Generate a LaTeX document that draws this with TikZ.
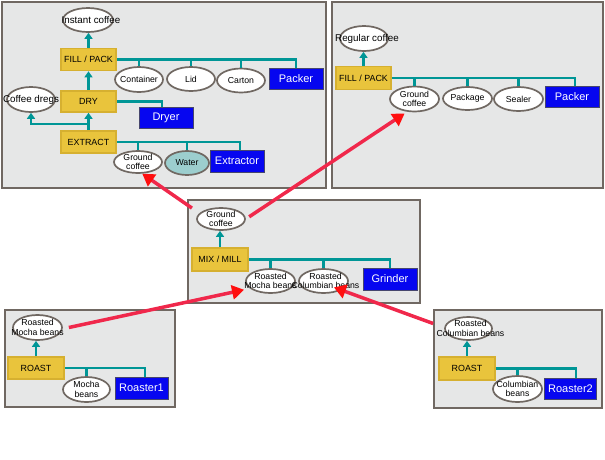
\documentclass[tikz,border=0pt]{standalone}
\usepackage{fontspec}
\setmainfont{Liberation Sans}
\usetikzlibrary{shapes.geometric,arrows.meta}
\definecolor{panelbg}{RGB}{230,231,231}
\definecolor{panelline}{RGB}{112,104,98}
\definecolor{gold}{RGB}{233,196,60}
\definecolor{golddark}{RGB}{214,176,48}
\definecolor{tealc}{RGB}{0,150,150}
\definecolor{bluebox}{RGB}{6,6,240}
\definecolor{blueline}{RGB}{70,70,110}
\definecolor{waterfill}{RGB}{156,206,206}
\definecolor{redline}{RGB}{240,40,75}
\definecolor{redhead}{RGB}{255,15,15}
\begin{document}
\begin{tikzpicture}[x=1pt,y=-1pt,
  panel/.style={fill=panelbg, draw=panelline, line width=1.8pt},
  proc/.style={rectangle, fill=gold, draw=golddark, line width=1.6pt, minimum width=55pt, minimum height=22pt, inner sep=0pt, font=\fontsize{8.9}{10}\selectfont},
  equip/.style={rectangle, fill=bluebox, draw=blueline, line width=0.8pt, minimum width=54pt, minimum height=21pt, inner sep=0pt, text=white, font=\fontsize{11}{12}\selectfont},
  oval/.style={ellipse, draw=panelline, fill=white, line width=1.7pt, minimum width=48pt, minimum height=24pt, inner sep=0pt},
  lbl/.style={font=\fontsize{8.7}{9.5}\selectfont, align=center, inner sep=0pt},
  biglbl/.style={font=\fontsize{9.8}{10}\selectfont, inner sep=0pt},
  bus/.style={draw=tealc, line width=2.2pt},
  up/.style={bus, -{Triangle[length=6pt,width=8pt]}},
  feed/.style={draw=redline, line width=3.5pt, -{Triangle[length=12pt,width=14pt,color=redhead]}}
]
\useasboundingbox (0,0) rectangle (605,459);

% panels
\path[panel] (2,2) rectangle (326,188);
\path[panel] (332,2) rectangle (603,188);
\path[panel] (188,200) rectangle (420,303);
\path[panel] (5,310) rectangle (175,407);
\path[panel] (434,310) rectangle (602,408);

% ---------- Panel A: instant coffee ----------
\node[oval, minimum width=50pt, label={[biglbl,xshift=3pt]center:Instant coffee}] (instant) at (88,20) {};
\node[proc] (fpA) at (88.5,59.5) {FILL / PACK};
\node[oval, minimum height=25pt, label={[lbl]center:Container}] (container) at (139,79.5) {};
\node[oval, label={[lbl]center:Lid}] (lid) at (191,79) {};
\node[oval, label={[lbl]center:Carton}] (carton) at (241,80.5) {};
\node[equip] (packerA) at (296,78.5) {Packer};
\node[oval, minimum height=25pt, label={[biglbl]center:Coffee dregs}] (dregs) at (31,99.5) {};
\node[proc, minimum height=21pt] (dry) at (88.5,101.5) {DRY};
\node[equip] (dryer) at (166,117.5) {Dryer};
\node[proc] (ext) at (88.5,142) {EXTRACT};
\node[oval, minimum height=22pt, label={[lbl]center:Ground\\coffee}] (gcA) at (138,162) {};
\node[oval, minimum width=44pt, fill=waterfill, label={[lbl]center:Water}] (water) at (187,163) {};
\node[equip, minimum height=22pt] (extractor) at (237,161) {Extractor};

\draw[up] (fpA.north) -- (fpA.north |- instant.south);
\draw[bus] (fpA.east) -| (packerA.north);
\foreach \n in {container,lid,carton} \draw[bus] (\n.north) -- (\n.north |- fpA.east);
\draw[up] (dry.north) -- (fpA.south);
\draw[bus] (dry.east) -| ([xshift=-4pt]dryer.north);
\draw[up] (ext.north) -- (dry.south);
\draw[up] ([yshift=6pt]ext.north) -| (dregs.south);
\draw[bus] (ext.east) -| ([xshift=3pt]extractor.north);
\foreach \n in {gcA,water} \draw[bus] (\n.north) -- (\n.north |- ext.east);

% ---------- Panel B: regular coffee ----------
\node[oval, minimum height=25pt, label={[biglbl,xshift=3pt]center:Regular coffee}] (regular) at (364,38.5) {};
\node[proc, minimum height=23pt] (fpB) at (363.5,78) {FILL / PACK};
\node[oval, minimum width=49pt, minimum height=25pt, label={[lbl]center:Ground\\coffee}] (gcB) at (414.5,99) {};
\node[oval, minimum width=49pt, minimum height=23pt, label={[lbl]center:Package}] (package) at (467.5,98.5) {};
\node[oval, minimum width=49pt, label={[lbl]center:Sealer}] (sealer) at (518.5,99) {};
\node[equip] (packerB) at (572,96.5) {Packer};

\draw[up] (fpB.north) -- (fpB.north |- regular.south);
\draw[bus] (fpB.east) -| ([xshift=3pt]packerB.north);
\foreach \n in {gcB,package,sealer} \draw[bus] (\n.north) -- (\n.north |- fpB.east);

% ---------- Panel C: mix / mill ----------
\node[oval, minimum height=22pt, label={[lbl]center:Ground\\coffee}] (gcC) at (221,219) {};
\node[proc, minimum width=56pt, minimum height=23pt] (mix) at (220,259.5) {MIX / MILL};
\node[oval, minimum width=49pt, label={[lbl]center:Roasted\\Mocha beans}] (rmC) at (270.5,281) {};
\node[oval, minimum width=49pt, label={[lbl,xshift=2pt]center:Roasted\\Columbian beans}] (rcC) at (323.5,281) {};
\node[equip, minimum height=22pt] (grinder) at (390,279) {Grinder};

\draw[up] (mix.north) -- (mix.north |- gcC.south);
\draw[bus] (mix.east) -| (grinder.north);
\foreach \n in {rmC,rcC} \draw[bus] (\n.north) -- (\n.north |- mix.east);

% ---------- Panel D: roast mocha ----------
\node[oval, minimum width=49pt, minimum height=25pt, label={[lbl]center:Roasted\\Mocha beans}] (rmD) at (37.5,327.5) {};
\node[proc, minimum width=56pt] (roastD) at (36,368) {ROAST};
\node[oval, minimum width=47pt, minimum height=25pt, label={[lbl]center:Mocha\\beans}] (mochaD) at (86.5,389.5) {};
\node[equip, minimum width=53pt, minimum height=22pt] (roaster1) at (141.5,388) {Roaster1};

\draw[up] (roastD.north) -- (roastD.north |- rmD.south);
\draw[bus] (roastD.east) -| ([xshift=3.5pt]roaster1.north);
\draw[bus] (mochaD.north) -- (mochaD.north |- roastD.east);

% ---------- Panel E: roast columbian ----------
\node[oval, minimum width=47pt, minimum height=23pt, label={[lbl,xshift=2pt]center:Roasted\\Columbian beans}] (rcE) at (468.5,328.5) {};
\node[proc, minimum width=56pt, minimum height=23pt] (roastE) at (467,368.5) {ROAST};
\node[oval, minimum width=49pt, minimum height=26pt, label={[lbl]center:Columbian\\beans}] (colE) at (517.5,389) {};
\node[equip, minimum width=52pt] (roaster2) at (570.5,388.5) {Roaster2};

\draw[up] (roastE.north) -- (roastE.north |- rcE.south);
\draw[bus] (roastE.east) -| ([xshift=5.5pt]roaster2.north);
\draw[bus] (colE.north) -- (colE.north |- roastE.east);

% ---------- material flows ----------
\draw[feed, shorten <=9pt] (gcC.165) -- (gcA.290);
\draw[feed, shorten <=4pt, shorten >=3pt] (gcC.east) -- (gcB.240);
\draw[feed, shorten >=6pt] ([xshift=6pt]rmD.east) -- (rmC.200);
\draw[feed, shorten >=-8pt] ([xshift=-11pt,yshift=5pt]rcE.west) -- (rcC.south east);
\end{tikzpicture}
\end{document}
